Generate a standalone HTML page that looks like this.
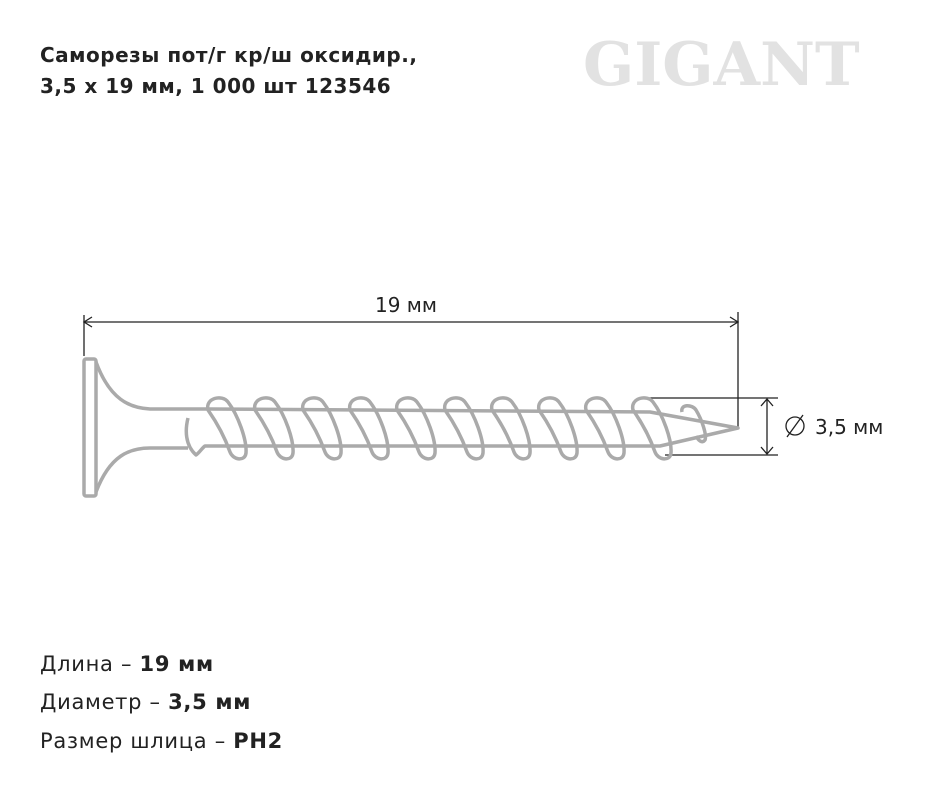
<!DOCTYPE html>
<html><head><meta charset="utf-8"><style>
body{margin:0;width:934px;height:796px;background:#fff;overflow:hidden;font-family:"DejaVu Sans","Liberation Sans",sans-serif;color:#222}
.t{position:absolute;left:40px;top:40px;font-size:20px;font-weight:bold;line-height:31px;letter-spacing:0.5px}
.s{position:absolute;left:40px;font-size:21px;letter-spacing:0.7px}
</style></head><body>
<div class="t">Саморезы пот/г кр/ш оксидир.,<br>3,5 х 19 мм, 1 000 шт 123546</div>
<div style="position:absolute;left:583px;top:30px;font-size:60px;font-weight:bold;color:#e2e2e2;font-family:'DejaVu Serif',serif;white-space:nowrap">GIGANT</div>
<svg width="934" height="796" style="position:absolute;left:0;top:0">
<g stroke="#222" stroke-width="1.3" fill="none">
<line x1="84" y1="315" x2="84" y2="356"/><line x1="738" y1="312" x2="738" y2="428"/>
<line x1="84" y1="322" x2="738" y2="322"/>
<path d="M92 317 L84 322 L92 327 M730 317 L738 322 L730 327"/>
<line x1="645" y1="398" x2="778" y2="398"/><line x1="665" y1="455" x2="778" y2="455"/>
<line x1="767" y1="399" x2="767" y2="454"/>
<path d="M761 406 L767 399 L773 406 M761 447 L767 454 L773 447"/>
<circle cx="795" cy="426" r="9"/><line x1="787" y1="437" x2="803" y2="415"/>
</g>
<text x="375" y="312" font-size="20" fill="#222" font-family="DejaVu Sans">19 мм</text>
<text x="815" y="434" font-size="20" fill="#222" font-family="DejaVu Sans">3,5 мм</text>
<g stroke="#aaa" stroke-width="3.5" fill="none" stroke-linejoin="round">
<rect x="84" y="359" width="12" height="137" rx="2"/>
<path d="M96 362 C110 400 130 408 150 409 L210 409"/>
<path d="M96 492 C110 455 130 448 150 448 L188 448"/>
<path d="M188 418 C185 430 185 445 196 455 C200 452 202 448 205 446 L660 446 L738 428 L650 412 L210 409"/>
<g id="th">
<path d="M208 410 C205 398 222 394 228 402 C238 415 247 440 246 453 C245 462 233 460 230 452 C224 435 215 420 208 410 Z"/>
</g>
<use href="#th" x="47"/><use href="#th" x="95"/><use href="#th" x="142"/><use href="#th" x="189"/><use href="#th" x="237"/><use href="#th" x="284"/><use href="#th" x="331"/><use href="#th" x="378"/><use href="#th" x="425"/>
<path d="M682 412 C680 404 692 404 696 410 C702 420 707 435 705 440 C702 444 698 440 696 436"/>
</g>
</svg>
<div class="s" style="top:652px">Длина – <b>19 мм</b></div>
<div class="s" style="top:690px">Диаметр – <b>3,5 мм</b></div>
<div class="s" style="top:729px">Размер шлица – <b>PH2</b></div>
</body></html>
